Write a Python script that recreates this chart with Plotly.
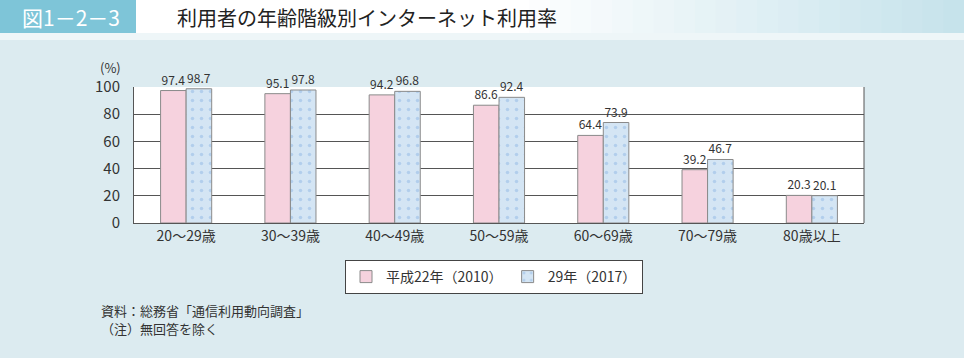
import plotly.graph_objects as go

categories = ["20～29歳", "30～39歳", "40～49歳", "50～59歳", "60～69歳", "70～79歳", "80歳以上"]
h22 = [97.4, 95.1, 94.2, 86.6, 64.4, 39.2, 20.3]
h29 = [98.7, 97.8, 96.8, 92.4, 73.9, 46.7, 20.1]
series_names = ["平成22年（2010）", "29年（2017）"]
y_ticks = [0, 20, 40, 60, 80, 100]

W, H = 964, 358
L, R, T, B = 134, 100, 87, 135
PW, PH = W - L - R, H - T - B

def px(x):
    return (x - L) / PW

def py(y):
    return 1 - (y - T) / PH

FONT = "Noto Sans CJK JP, Noto Sans, sans-serif"

fig = go.Figure()
fig.add_trace(go.Bar(
    x=categories, y=h22, name=series_names[0],
    marker=dict(color="#f6d2de", line=dict(color="#8a8a8a", width=1)),
    text=[f"{v:.1f}" for v in h22], textposition="outside",
    textfont=dict(size=12, color="#333"), cliponaxis=False,
))
fig.add_trace(go.Bar(
    x=categories, y=h29, name=series_names[1],
    marker=dict(color="#d4e5f4", line=dict(color="#8a8a8a", width=1),
                pattern=dict(shape=".", fgcolor="#8fb7e3", bgcolor="#d4e5f4", size=9, solidity=0.12)),
    text=[f"{v:.1f}" for v in h29], textposition="outside",
    textfont=dict(size=12, color="#333"), cliponaxis=False,
))

shapes = []
# header gradient strip
n = 40
x_start = 136
for i in range(n):
    x0 = x_start + (W - x_start) * i / n
    x1 = x_start + (W - x_start) * (i + 1) / n
    t = max(0.0, (i / n - 0.45) / 0.55)
    c0 = (255, 255, 255)
    c1 = (196, 226, 235)
    col = tuple(int(c0[k] + (c1[k] - c0[k]) * t) for k in range(3))
    shapes.append(dict(type="rect", xref="paper", yref="paper", x0=px(x0), x1=px(x1) + 0.002,
                       y0=py(33), y1=py(0), fillcolor="rgb(%d,%d,%d)" % col, line=dict(width=0), layer="below"))
shapes.append(dict(type="rect", xref="paper", yref="paper", x0=px(0), x1=px(136), y0=py(33), y1=py(0),
                   fillcolor="#7ec5d8", line=dict(width=0), layer="below"))
shapes.append(dict(type="rect", xref="paper", yref="paper", x0=px(0), x1=px(W), y0=py(40), y1=py(33),
                   fillcolor="#eef6f8", line=dict(width=0), layer="below"))
# plot frame right edge
shapes.append(dict(type="line", xref="paper", yref="paper", x0=1, x1=1, y0=0, y1=1,
                   line=dict(color="#555", width=1)))

annotations = [
    dict(text="図1－2－3", x=px(20), y=py(17), xref="paper", yref="paper", xanchor="left", yanchor="middle",
         showarrow=False, font=dict(size=21, color="white", family=FONT)),
    dict(text="利用者の年齢階級別インターネット利用率", x=px(175), y=py(17), xref="paper", yref="paper",
         xanchor="left", yanchor="middle", showarrow=False, font=dict(size=20, color="#222", family=FONT)),
    dict(text="(%)", x=px(110), y=py(67), xref="paper", yref="paper", xanchor="center", yanchor="middle",
         showarrow=False, font=dict(size=13, color="#333", family=FONT)),
    dict(text="資料：総務省「通信利用動向調査」", x=px(99), y=py(310), xref="paper", yref="paper",
         xanchor="left", yanchor="middle", align="left", showarrow=False,
         font=dict(size=13, color="#333", family=FONT)),
    dict(text="（注）無回答を除く", x=px(99), y=py(328), xref="paper", yref="paper",
         xanchor="left", yanchor="middle", align="left", showarrow=False,
         font=dict(size=13, color="#333", family=FONT)),
]

fig.update_layout(
    width=W, height=H,
    margin=dict(l=L, r=R, t=T, b=B, pad=0),
    paper_bgcolor="#dcebf0", plot_bgcolor="white",
    font=dict(family=FONT, color="#333"),
    barmode="group", bargap=0.51, bargroupgap=0,
    showlegend=True,
    legend=dict(orientation="h", x=px(494), y=py(277), xanchor="center", yanchor="middle",
                bgcolor="white", bordercolor="#444", borderwidth=1,
                font=dict(size=14, color="#333", family=FONT), itemwidth=30,
                traceorder="normal"),
    shapes=shapes, annotations=annotations,
    xaxis=dict(showgrid=False, showline=True, linecolor="#555", linewidth=1, ticks="",
               tickfont=dict(size=14, color="#333"), range=[-0.5, 6.5]),
    yaxis=dict(range=[0, 100], tickvals=y_ticks, showgrid=True, gridcolor="#555", gridwidth=1,
               showline=True, linecolor="#555", linewidth=1, ticks="", zeroline=False,
               tickfont=dict(size=15, color="#333"), ticklabelstandoff=10),
)

fig.write_html("out.html", config={"displayModeBar": False},
               post_script="document.body.style.margin='0';document.body.style.overflow='hidden';")
